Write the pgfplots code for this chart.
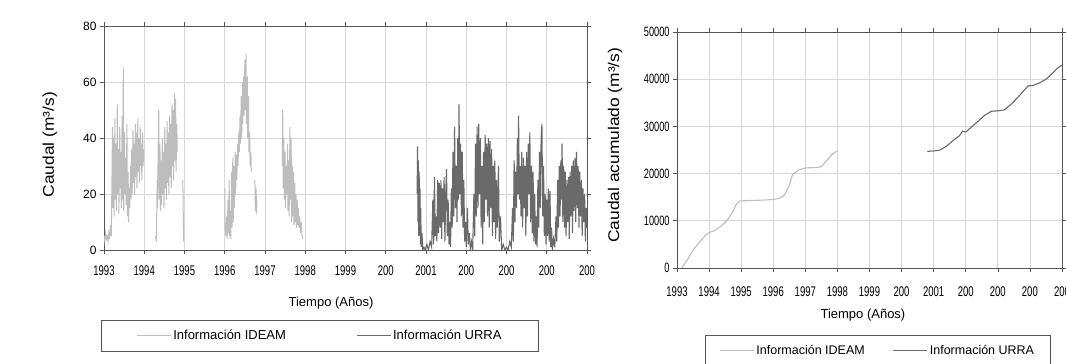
\documentclass[border=0pt]{standalone}
\usepackage{fontspec}
\setmainfont{Liberation Sans}
\newfontfamily\narrowf[FakeStretch=0.68]{Liberation Sans}
\newfontfamily\widef[FakeStretch=1.12]{Liberation Sans}
\usepackage{pgfplots}
\pgfplotsset{compat=1.18}
\definecolor{ideam}{HTML}{BDBDBD}
\definecolor{urra}{HTML}{6A6A6A}
\definecolor{gridc}{HTML}{D8D8D8}
\definecolor{axisc}{HTML}{555555}
\pgfplotsset{
  common/.style={
    scale only axis,
    axis line style={axisc},
    tick style={axisc, line width=0.6pt},
    tick align=outside,
    major tick length=4pt,
    grid=major,
    major grid style={gridc, line width=0.7pt},
    xmin=1993, xmax=2005,
    xtick={1993,1994,...,2005},
    x tick label style={font=\narrowf\fontsize{14}{14}\selectfont},
    y tick label style={font=\fontsize{12}{12}\selectfont},
    xlabel style={font=\fontsize{13}{13}\selectfont},
    ylabel style={font=\widef\fontsize{15.5}{15.5}\selectfont},
    scaled y ticks=false,
    legend columns=2,
    legend image code/.code={\draw[##1] (0pt,0pt) -- (34pt,0pt);},
  }
}
\begin{document}
\begin{tikzpicture}
\path[use as bounding box] (0,0) rectangle (1066pt,364pt);
% ---------------- left panel
\begin{axis}[common,
  at={(104pt,114pt)}, anchor=south west,
  width=483pt, height=224pt,
  ymin=0, ymax=80, ytick={0,20,40,60,80},
  yticklabels={0,20,40,60,80},
  xticklabels={1993,1994,1995,1996,1997,1998,1999,200,2001,200,200,200,200},
  x tick label style={yshift=-8pt},
  xlabel={Tiempo (Años)},
  ylabel={Caudal (m³/s)},
  xlabel style={at={(axis description cs:0.47,-0.237)}, anchor=center},
  ylabel style={at={(axis description cs:-0.112,0.47)}, anchor=center},
  legend style={at={(axis description cs:-0.006,-0.3125)}, anchor=north west,
    draw=axisc, fill=none, font=\fontsize{13}{13}\selectfont,
    inner xsep=35pt, inner ysep=8pt,
    /tikz/every even column/.append style={column sep=68pt}},
]
\addplot[ideam, line width=1pt] coordinates {
(1993.00,5)(1993.02,3)(1993.04,6)(1993.06,4)(1993.08,5)(1993.10,3)(1993.12,6)(1993.14,4)(1993.16,9)(1993.18,5)
(1993.20,28)(1993.21,44)(1993.22,15)(1993.24,40)(1993.25,12)(1993.27,47)(1993.28,18)(1993.30,38)(1993.31,14)(1993.33,52)
(1993.34,20)(1993.36,36)(1993.37,13)(1993.39,44)(1993.40,22)(1993.42,35)(1993.43,15)(1993.45,48)(1993.46,18)(1993.48,65)
(1993.49,14)(1993.51,42)(1993.52,20)(1993.54,33)(1993.55,16)(1993.57,45)(1993.58,12)(1993.60,28)(1993.61,10)(1993.63,22)
(1993.64,15)(1993.66,30)(1993.67,18)(1993.69,36)(1993.70,20)(1993.72,43)(1993.73,24)(1993.75,38)(1993.76,20)(1993.78,45)
(1993.79,26)(1993.81,42)(1993.82,22)(1993.84,47)(1993.85,28)(1993.87,40)(1993.88,24)(1993.90,44)(1993.91,30)(1993.93,38)
(1993.94,25)(1993.96,42)(1993.97,30)(1993.99,36)};
\addlegendentry{Información IDEAM}
\addplot[urra, line width=1.1pt] coordinates {
(2000.78,20)(2000.79,37)(2000.80,10)(2000.81,32)(2000.82,5)(2000.83,28)(2000.84,8)(2000.85,22)(2000.86,2)(2000.87,15)
(2000.88,1)(2000.90,6)(2000.92,0)(2000.95,1)(2000.98,0)(2001.02,2)(2001.06,0)(2001.10,3)(2001.14,1)(2001.17,18)
(2001.19,2)(2001.21,26)(2001.23,5)(2001.25,12)(2001.27,3)(2001.29,25)(2001.31,6)(2001.33,24)(2001.35,8)(2001.37,25)
(2001.39,4)(2001.41,22)(2001.43,10)(2001.45,26)(2001.47,3)(2001.49,20)(2001.51,29)(2001.53,5)(2001.55,18)(2001.57,2)
(2001.59,10)(2001.61,1)(2001.63,22)(2001.65,8)(2001.67,35)(2001.69,12)(2001.71,44)(2001.73,15)(2001.75,30)(2001.77,10)
(2001.79,40)(2001.81,18)(2001.82,52)(2001.84,20)(2001.86,38)(2001.88,12)(2001.90,35)(2001.92,8)(2001.94,25)(2001.96,3)
(2001.98,10)(2002.00,1)(2002.03,15)(2002.05,2)(2002.08,6)(2002.10,0)(2002.13,3)(2002.16,0)(2002.19,20)(2002.21,5)
(2002.23,38)(2002.25,12)(2002.27,44)(2002.29,15)(2002.31,45)(2002.33,20)(2002.35,40)(2002.37,8)(2002.39,30)(2002.41,2)
(2002.43,35)(2002.45,10)(2002.47,41)(2002.49,18)(2002.51,38)(2002.53,12)(2002.55,40)(2002.57,8)(2002.59,39)(2002.61,15)
(2002.63,36)(2002.65,5)(2002.67,30)(2002.69,10)(2002.71,32)(2002.73,4)(2002.75,25)(2002.77,8)(2002.80,30)(2002.82,3)
(2002.85,12)(2002.88,0)(2002.92,2)(2002.96,0)(2003.00,1)(2003.04,0)(2003.08,3)(2003.12,1)(2003.15,15)(2003.17,3)
(2003.19,32)(2003.21,10)(2003.23,28)(2003.25,15)(2003.27,40)(2003.29,20)(2003.30,48)(2003.32,18)(2003.34,30)(2003.36,12)
(2003.38,35)(2003.40,8)(2003.42,33)(2003.44,15)(2003.46,30)(2003.48,5)(2003.50,35)(2003.52,12)(2003.54,38)(2003.56,20)
(2003.58,42)(2003.60,10)(2003.62,30)(2003.64,6)(2003.66,28)(2003.68,3)(2003.70,20)(2003.72,2)(2003.74,12)(2003.76,1)
(2003.78,25)(2003.80,8)(2003.82,35)(2003.84,15)(2003.86,40)(2003.88,45)(2003.90,12)(2003.92,30)(2003.94,5)(2003.96,20)
(2003.98,2)(2004.00,18)(2004.02,5)(2004.04,22)(2004.06,3)(2004.08,21)(2004.10,1)(2004.12,8)(2004.14,0)(2004.17,4)
(2004.20,1)(2004.23,12)(2004.25,3)(2004.27,25)(2004.29,8)(2004.31,30)(2004.33,12)(2004.35,32)(2004.37,18)(2004.38,38)
(2004.40,10)(2004.42,30)(2004.44,8)(2004.46,28)(2004.48,5)(2004.50,25)(2004.52,10)(2004.54,26)(2004.56,4)(2004.58,28)
(2004.60,12)(2004.62,30)(2004.64,6)(2004.66,32)(2004.68,14)(2004.70,33)(2004.72,10)(2004.74,35)(2004.76,15)(2004.78,30)
(2004.80,8)(2004.82,28)(2004.84,12)(2004.86,25)(2004.88,5)(2004.90,22)(2004.92,10)(2004.94,20)(2004.96,3)(2004.98,15)
(2005.00,8)};
\addlegendentry{Información URRA}
\addplot[ideam, line width=1pt, forget plot] coordinates {
(1994.28,5)(1994.30,3)(1994.31,12)(1994.32,25)(1994.33,15)(1994.35,42)(1994.36,50)(1994.37,18)(1994.39,38)(1994.40,14)
(1994.42,32)(1994.43,16)(1994.45,40)(1994.46,20)(1994.48,35)(1994.49,15)(1994.51,44)(1994.52,22)(1994.54,38)(1994.55,18)
(1994.57,46)(1994.58,24)(1994.60,42)(1994.61,20)(1994.63,48)(1994.64,26)(1994.66,45)(1994.67,22)(1994.69,52)(1994.70,30)
(1994.72,50)(1994.73,25)(1994.75,56)(1994.76,32)(1994.78,54)(1994.79,28)(1994.81,45)(1994.82,35)};
\addplot[ideam, line width=1pt, forget plot] coordinates {(1994.96,25)(1994.97,12)(1994.98,3)};
\addplot[ideam, line width=1pt, forget plot] coordinates {
(1996.00,22)(1996.01,8)(1996.03,5)(1996.05,12)(1996.06,4)(1996.08,18)(1996.09,6)(1996.11,25)(1996.12,5)(1996.14,14)
(1996.15,4)(1996.17,28)(1996.18,8)(1996.20,33)(1996.21,10)(1996.23,30)(1996.24,15)(1996.26,35)(1996.27,20)(1996.29,34)
(1996.30,25)(1996.32,38)(1996.33,30)(1996.35,42)(1996.36,35)(1996.38,48)(1996.39,38)(1996.41,55)(1996.42,40)(1996.44,60)
(1996.45,45)(1996.47,62)(1996.48,48)(1996.50,68)(1996.51,50)(1996.53,70)(1996.54,45)(1996.56,62)(1996.57,40)(1996.59,55)
(1996.60,35)(1996.62,42)(1996.63,30)(1996.65,35)(1996.66,28)};
\addplot[ideam, line width=1pt, forget plot] coordinates {(1996.75,25)(1996.76,14)(1996.78,22)(1996.79,13)(1996.80,18)};
\addplot[ideam, line width=1pt, forget plot] coordinates {
(1997.43,30)(1997.44,50)(1997.45,22)(1997.47,40)(1997.48,18)(1997.50,35)(1997.51,15)(1997.53,30)(1997.54,20)(1997.56,38)
(1997.57,14)(1997.59,32)(1997.60,12)(1997.62,44)(1997.63,18)(1997.65,40)(1997.66,10)(1997.68,30)(1997.69,12)(1997.71,28)
(1997.72,9)(1997.74,24)(1997.75,10)(1997.77,20)(1997.78,8)(1997.80,18)(1997.81,9)(1997.83,15)(1997.84,8)(1997.86,12)
(1997.88,6)(1997.90,10)(1997.92,5)(1997.94,4)};
\end{axis}
% ---------------- right panel
\begin{axis}[common,
  at={(677pt,96pt)}, anchor=south west,
  width=385pt, height=236pt,
  ymin=0, ymax=50000, ytick={0,10000,20000,30000,40000,50000},
  yticklabels={0,10000,20000,30000,40000,50000},
  y tick label style={font=\narrowf\fontsize{13.5}{13.5}\selectfont},
  xticklabels={1993,1994,1995,1996,1997,1998,1999,200,2001,200,200,200,200},
  x tick label style={yshift=-11pt},
  xlabel={Tiempo (Años)},
  ylabel={Caudal acumulado (m³/s)},
  xlabel style={at={(axis description cs:0.483,-0.2)}, anchor=center},
  ylabel style={at={(axis description cs:-0.161,0.52)}, anchor=center},
  legend style={at={(axis description cs:0.073,-0.284)}, anchor=north west,
    draw=axisc, fill=none, font=\fontsize{12.5}{12.5}\selectfont,
    inner xsep=14pt, inner ysep=8pt,
    /tikz/every even column/.append style={column sep=26pt}},
]
\addplot[ideam, line width=1.1pt] coordinates {
(1993.15,0)(1993.3,1500)(1993.5,3800)(1993.7,5500)(1993.9,7000)(1994.0,7500)(1994.2,8000)(1994.4,9000)(1994.55,10000)
(1994.7,11500)(1994.85,13500)(1994.95,14200)(1995.3,14300)(1995.7,14400)(1996.0,14500)(1996.2,14800)(1996.35,15500)
(1996.5,17500)(1996.6,19800)(1996.8,20800)(1997.0,21200)(1997.4,21300)(1997.5,21500)(1997.7,23000)(1997.85,24200)(1998.0,24800)};
\addlegendentry{Información IDEAM}
\addplot[urra, line width=1.1pt] coordinates {
(2000.8,24700)(2001.0,24800)(2001.2,25000)(2001.4,25800)(2001.6,27000)(2001.8,28000)(2001.9,29000)(2002.0,28800)
(2002.2,30000)(2002.4,31200)(2002.6,32400)(2002.8,33200)(2003.0,33300)(2003.2,33500)(2003.4,34600)(2003.6,36000)
(2003.8,37500)(2003.95,38600)(2004.1,38700)(2004.3,39200)(2004.5,40000)(2004.7,41200)(2004.85,42300)(2005.0,43000)};
\addlegendentry{Información URRA}
\end{axis}
\end{tikzpicture}
\end{document}
